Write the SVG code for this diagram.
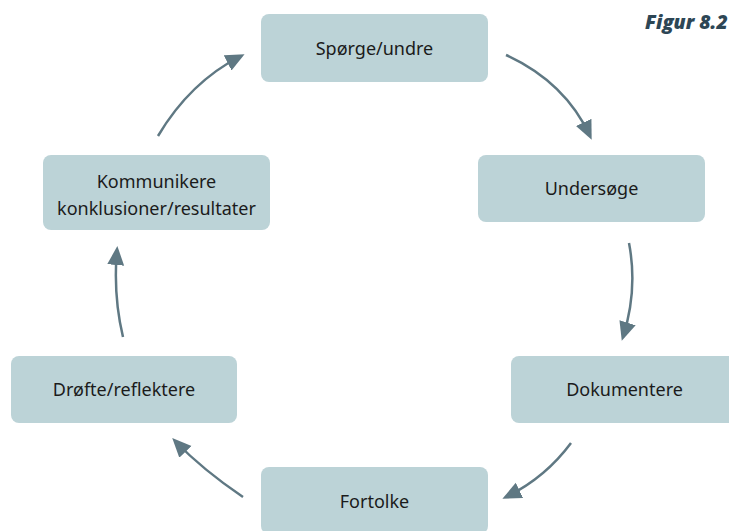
<svg xmlns="http://www.w3.org/2000/svg" width="729" height="531" viewBox="0 0 729 531">
<style>
.box{fill:#bcd3d7}
.lbl{font-family:"Noto Sans","Liberation Sans",sans-serif;font-size:18px;fill:#1b1b1b;text-anchor:middle}
.arr{fill:none;stroke:#5f7883;stroke-width:2.5;marker-end:url(#ah)}
.fig{font-family:"Open Sans","Liberation Sans",sans-serif;font-weight:800;font-style:italic;font-size:19.5px;fill:#2d4655}
</style>
<defs>
<marker id="ah" markerUnits="userSpaceOnUse" markerWidth="20" markerHeight="18" refX="15" refY="8.5" orient="auto">
<path d="M0,0 L19,8.5 L0,17 z" fill="#5f7883"/>
</marker>
</defs>
<rect width="729" height="531" fill="#ffffff"/>
<text class="fig" x="645" y="29">Figur 8.2</text>
<g id="connectors">
<path class="arr" d="M506,55 Q565,82 590,136"/>
<path class="arr" d="M629,243 Q638,290 623,337"/>
<path class="arr" d="M571,443 Q545,478 506,497"/>
<path class="arr" d="M243,497 Q203,470 175,441"/>
<path class="arr" d="M123,337 Q113,295 117,250"/>
<path class="arr" d="M158,136 Q190,82 241,56"/>
</g>
<g id="sporge"><rect class="box" x="261" y="14" width="227" height="68" rx="8"/><text class="lbl" x="374.5" y="55">Spørge/undre</text></g>
<g id="undersoge"><rect class="box" x="478" y="155" width="227" height="67" rx="8"/><text class="lbl" x="591.5" y="195">Undersøge</text></g>
<g id="dokumentere"><rect class="box" x="511" y="356" width="227" height="67" rx="8"/><text class="lbl" x="624.5" y="396">Dokumentere</text></g>
<g id="fortolke"><rect class="box" x="261" y="467" width="227" height="67" rx="8"/><text class="lbl" x="374.5" y="508">Fortolke</text></g>
<g id="drofte"><rect class="box" x="11" y="356" width="226" height="67" rx="8"/><text class="lbl" x="124" y="396">Drøfte/reflektere</text></g>
<g id="kommunikere"><rect class="box" x="43" y="155" width="227" height="75" rx="8"/><text class="lbl" x="156.5" y="188">Kommunikere</text><text class="lbl" x="156.5" y="215">konklusioner/resultater</text></g>
</svg>
